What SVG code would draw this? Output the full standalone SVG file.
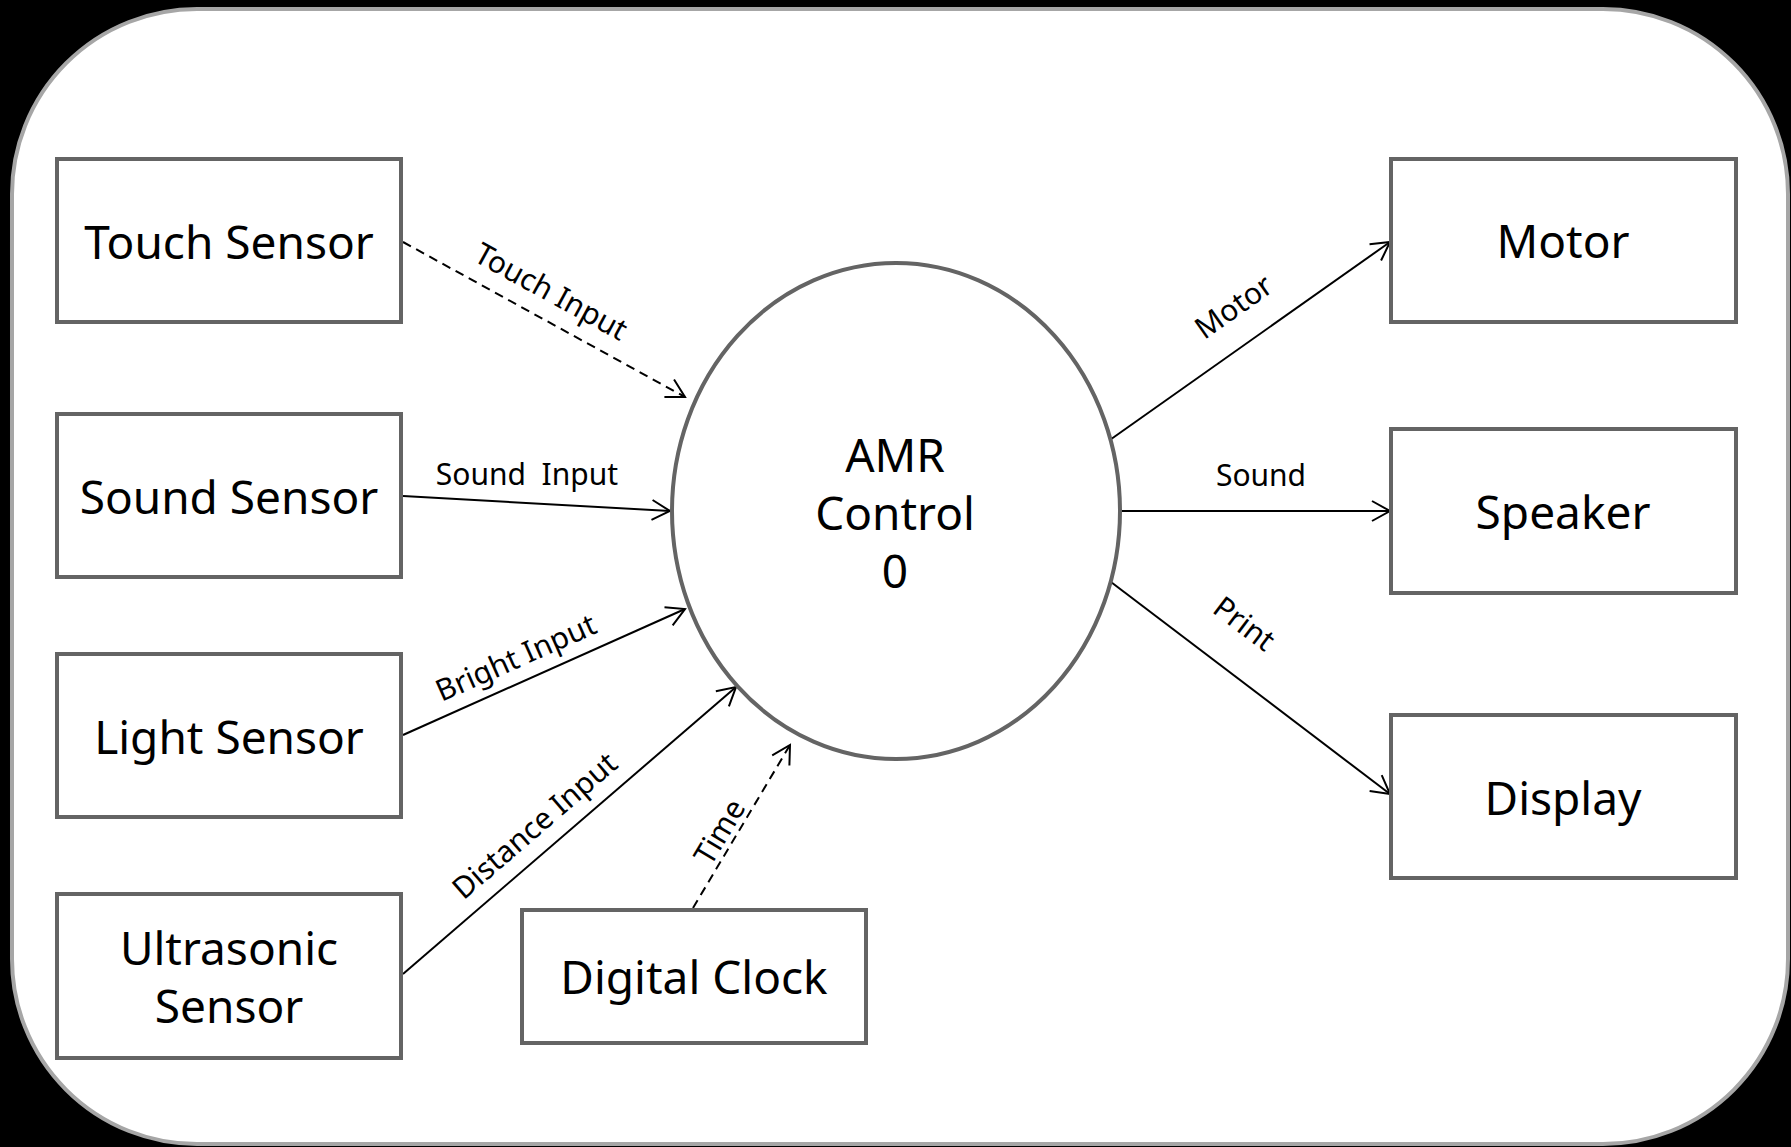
<svg xmlns="http://www.w3.org/2000/svg" width="1791" height="1147" viewBox="0 0 1791 1147">
<style>
.box{fill:#fff;stroke:#646464;stroke-width:4}
.lbl{font-family:"Noto Sans","Open Sans","Liberation Sans",sans-serif;font-size:46px;fill:#000;text-anchor:middle}
.cl{font-family:"Noto Sans","Open Sans","Liberation Sans",sans-serif;font-size:30px;fill:#000;text-anchor:middle}
.ln{fill:none;stroke:#000;stroke-width:2;marker-end:url(#arr)}
.dash{stroke-dasharray:9 6}
</style>
<defs>
<marker id="arr" viewBox="0 0 20 20" refX="19" refY="10" markerWidth="20" markerHeight="20" markerUnits="userSpaceOnUse" orient="auto" overflow="visible">
<path d="M1,0 L19,10 L1,20" fill="none" stroke="#000" stroke-width="2"/>
</marker>
</defs>
<rect x="0" y="0" width="1791" height="1147" fill="#000"/>
<rect x="12" y="9" width="1776" height="1135" rx="185" ry="185" fill="#fff" stroke="#a6a6a6" stroke-width="4"/>

<g id="connectors">
<line class="ln dash" x1="403" y1="242" x2="685" y2="397"/>
<line class="ln" x1="403" y1="496" x2="670" y2="511"/>
<line class="ln" x1="403" y1="735" x2="685" y2="609"/>
<line class="ln" x1="403" y1="974" x2="736" y2="687"/>
<line class="ln dash" x1="693" y1="908" x2="790" y2="745"/>
<line class="ln" x1="1107" y1="442" x2="1390" y2="242"/>
<line class="ln" x1="1122" y1="511" x2="1390" y2="511"/>
<line class="ln" x1="1107" y1="579" x2="1390" y2="794"/>
<text class="cl" transform="translate(551,292) rotate(28.7)" y="10">Touch Input</text>
<text class="cl" x="527" y="485" xml:space="preserve">Sound  Input</text>
<text class="cl" transform="translate(516,658) rotate(-24)" y="10">Bright Input</text>
<text class="cl" transform="translate(535,826) rotate(-40.7)" y="10">Distance Input</text>
<text class="cl" transform="translate(720,832) rotate(-59.2)" y="10">Time</text>
<text class="cl" transform="translate(1234,307) rotate(-35.2)" y="10">Motor</text>
<text class="cl" x="1261" y="486">Sound</text>
<text class="cl" transform="translate(1244,624) rotate(37.2)" y="10">Print</text>
</g>

<g id="amr-control">
<ellipse cx="896" cy="511" rx="224" ry="248" fill="#fff" stroke="#646464" stroke-width="4"/>
<text class="lbl" x="895" y="472">AMR</text>
<text class="lbl" x="895" y="530">Control</text>
<text class="lbl" x="895" y="588">0</text>
</g>

<g id="touch-sensor">
<rect class="box" x="57" y="159" width="344" height="163"/>
<text class="lbl" x="229" y="259">Touch Sensor</text>
</g>
<g id="sound-sensor">
<rect class="box" x="57" y="414" width="344" height="163"/>
<text class="lbl" x="229" y="514">Sound Sensor</text>
</g>
<g id="light-sensor">
<rect class="box" x="57" y="654" width="344" height="163"/>
<text class="lbl" x="229" y="754">Light Sensor</text>
</g>
<g id="ultrasonic-sensor">
<rect class="box" x="57" y="894" width="344" height="164"/>
<text class="lbl" x="229" y="965">Ultrasonic</text>
<text class="lbl" x="229" y="1023">Sensor</text>
</g>
<g id="digital-clock">
<rect class="box" x="522" y="910" width="344" height="133"/>
<text class="lbl" x="694" y="994">Digital Clock</text>
</g>
<g id="motor">
<rect class="box" x="1391" y="159" width="345" height="163"/>
<text class="lbl" x="1563" y="258">Motor</text>
</g>
<g id="speaker">
<rect class="box" x="1391" y="429" width="345" height="164"/>
<text class="lbl" x="1563" y="529">Speaker</text>
</g>
<g id="display">
<rect class="box" x="1391" y="715" width="345" height="163"/>
<text class="lbl" x="1563" y="815">Display</text>
</g>
</svg>
